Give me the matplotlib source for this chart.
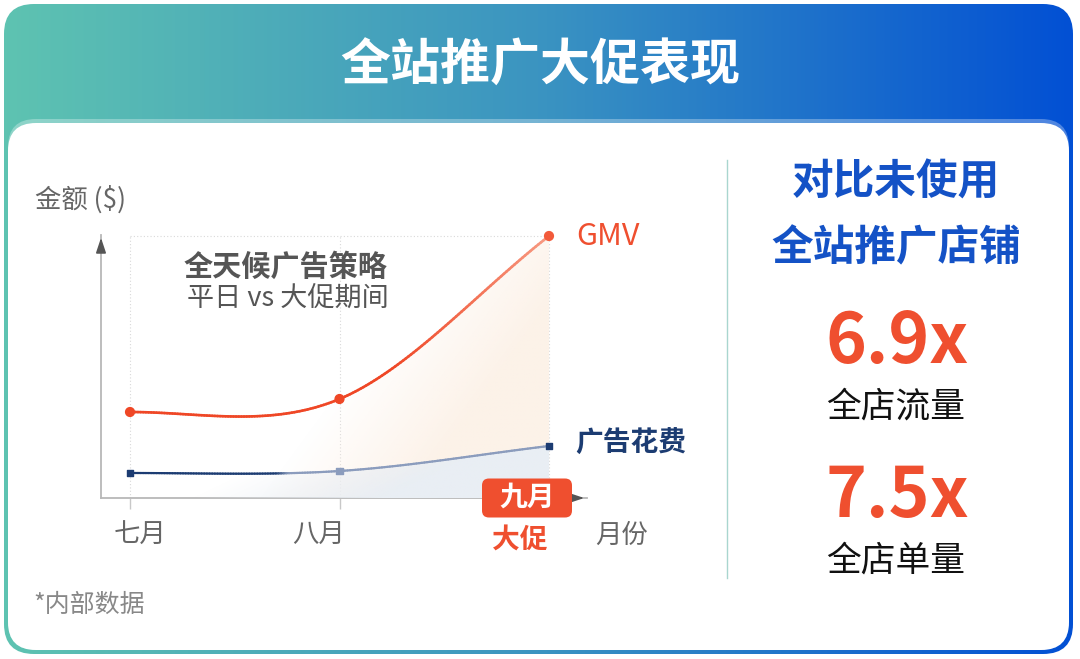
import numpy as np
import matplotlib
matplotlib.use("Agg")
import matplotlib.pyplot as plt
from matplotlib.patches import FancyBboxPatch, Polygon
from matplotlib.collections import LineCollection
from matplotlib.colors import LinearSegmentedColormap, to_rgb
from matplotlib.bezier import BezierSegment

plt.rcParams['font.family'] = ['Noto Sans CJK SC', 'DejaVu Sans']

# data
months = ['七月', '八月', '九月']
gmv = [8.6, 9.9, 26.2]          # 金额, arbitrary units
ad_spend = [2.5, 2.7, 5.2]
stat_values = ['6.9x', '7.5x']
stat_labels = ['全店流量', '全店单量']

ORANGE = '#ef4f2f'
NAVY = '#1c3c72'
BLUE = '#1452c6'


def smooth_curve(xs, ys, n=80):
    # cubic bezier through the points (flat start, chord end)
    pts = np.column_stack([xs, ys]).astype(float)
    out = []
    for i in range(len(pts) - 1):
        p0, p3 = pts[i], pts[i + 1]
        if i == 0:
            m0 = np.array([p3[0] - p0[0], 0.0])
        else:
            m0 = (pts[i + 1] - pts[i - 1]) / 2
        if i + 2 < len(pts):
            m1 = (pts[i + 2] - pts[i]) / 2
        else:
            m1 = p3 - p0
        seg = BezierSegment(np.array([p0, p0 + m0 / 3, p3 - m1 / 3, p3]))
        t = np.linspace(0, 1, n)
        out.append(seg(t) if i == 0 else seg(t)[1:])
    return np.vstack(out)


def blend(c1, c2, t):
    a, b = np.array(to_rgb(c1)), np.array(to_rgb(c2))
    t = np.clip(t, 0, 1)[:, None]
    return a * (1 - t) + b * t


fig = plt.figure(figsize=(10.8, 6.59), dpi=100)

# ---- card background ----
bg = fig.add_axes([0, 0, 1, 1])
cmap = LinearSegmentedColormap.from_list('hdr', ['#5ec3b1', '#3b94c1', '#0250d4'])
im = bg.imshow(np.linspace(0, 1, 512)[None, :], extent=(4, 1073, 654, 4),
               cmap=cmap, aspect='auto', zorder=0)
outer = FancyBboxPatch((4, 4), 1069, 650, boxstyle='round,pad=0,rounding_size=30',
                       fc='none', ec='none')
bg.add_patch(outer)
im.set_clip_path(outer)
bg.add_patch(FancyBboxPatch((8, 119), 1061, 531, boxstyle='round,pad=0,rounding_size=28',
                            fc=(1, 1, 1, 0.3), ec='none', zorder=1))
bg.add_patch(FancyBboxPatch((8, 123), 1061, 527, boxstyle='round,pad=0,rounding_size=28',
                            fc='white', ec='none', zorder=2))
bg.set_xlim(0, 1080)
bg.set_ylim(659, 0)
bg.axis('off')

bg.text(540, 66, '全站推广大促表现', ha='center', va='center', fontsize=36,
        fontweight='bold', color='white', zorder=3)

# right panel
bg.plot([727, 727], [160, 578], color='#a9d6cf', lw=1, zorder=3)
bg.text(896, 183, '对比未使用', ha='center', va='center', fontsize=30,
        fontweight='bold', color=BLUE, zorder=3)
bg.text(896, 248, '全站推广店铺', ha='center', va='center', fontsize=30,
        fontweight='bold', color=BLUE, zorder=3)
for i, (v, lab) in enumerate(zip(stat_values, stat_labels)):
    yb = 363 + i * 154
    bg.text(897, yb, v, ha='center', va='baseline', fontsize=50,
            fontweight='bold', color=ORANGE, zorder=3)
    bg.text(896, yb + 44, lab, ha='center', va='center', fontsize=25,
            color='#111111', zorder=3)

bg.text(33, 605, '*内部数据', ha='left', va='center', fontsize=18,
        color='#888888', zorder=3)

# ---- chart ----
ax = fig.add_axes([101 / 1080, (659 - 498) / 659, 486 / 1080, 263 / 659])
ax.patch.set_alpha(0)
x = np.arange(len(months))
x0, x1 = -29 / 209.5, 457 / 209.5
ytop = 26.3
ax.set_xlim(x0, x1)
ax.set_ylim(0, ytop)
for s in ax.spines.values():
    s.set_visible(False)
ax.set_yticks([])
ax.set_xticks(x[:2])
ax.set_xticklabels([])
ax.tick_params(axis='x', length=8, width=1, color='#c8c8c8')

# dotted guide lines
ax.vlines(x, 0, gmv[-1], colors='#d9d9d9', linestyles=(0, (1, 2)), lw=0.8, zorder=1)
ax.hlines(gmv[-1], x[0], x[-1], colors='#d9d9d9', linestyles=(0, (1, 2)), lw=0.8, zorder=1)

gmv_pts = smooth_curve(x, gmv)
ad_pts = smooth_curve(x, ad_spend)

# gradient fills under the curves
gx = np.linspace(x0, x1, 400)
gy = np.linspace(0, ytop, 200)
GX, GY = np.meshgrid(gx, gy)
for pts, col, a0, k, w, amax, z in [
        (gmv_pts, '#fcefe3', 0.62, 0.035, 0.7, 0.8, 2),
        (ad_pts, '#e9eef4', 0.30, 0.10, 0.9, 1.0, 3)]:
    rgba = np.zeros(GX.shape + (4,))
    rgba[..., :3] = to_rgb(col)
    rgba[..., 3] = np.clip((GX - a0 - k * GY) / w, 0, 1) * amax
    poly = np.vstack([pts, [[x[-1], 0], [x[0], 0]]])
    clip = Polygon(poly, closed=True, fc='none', ec='none')
    ax.add_patch(clip)
    fim = ax.imshow(rgba, extent=(x0, x1, 0, ytop), origin='lower',
                    aspect='auto', zorder=z, interpolation='bilinear')
    fim.set_clip_path(clip)
ax.set_xlim(x0, x1)
ax.set_ylim(0, ytop)

# gradient lines
for pts, c1, c2, t0, tw, lw in [
        (gmv_pts, '#ef4726', '#f79a82', 1.25, 0.75, 1.9),
        (ad_pts, NAVY, '#8b9cbd', 0.70, 0.06, 1.6)]:
    segs = np.stack([pts[:-1], pts[1:]], axis=1)
    mid = (pts[:-1, 0] + pts[1:, 0]) / 2
    lc = LineCollection(segs, colors=blend(c1, c2, (mid - t0) / tw),
                        linewidths=lw, capstyle='round', zorder=4)
    ax.add_collection(lc)

ax.scatter(x, gmv, s=40, marker='o', c=['#ef4726', '#ef4726', '#f25a3a'],
           zorder=5, clip_on=False)
ax.scatter(x, ad_spend, s=20, marker='s', c=[NAVY, '#8b9cbd', NAVY],
           zorder=5, clip_on=False)

# axes with arrows
ax.plot([0, 0], [0, 1], transform=ax.transAxes, color='#b8b8b8', lw=1.3, clip_on=False)
ax.plot([0, 1], [0, 0], transform=ax.transAxes, color='#b8b8b8', lw=1.3, clip_on=False)
ax.annotate('', xy=(0, 1), xytext=(0, 0.95), xycoords='axes fraction',
            arrowprops=dict(arrowstyle='-|>,head_length=0.9,head_width=0.3',
                            color='#555555', lw=1.2))
ax.annotate('', xy=(1, 0), xytext=(0.97, 0), xycoords='axes fraction',
            arrowprops=dict(arrowstyle='-|>,head_length=0.9,head_width=0.3',
                            color='#555555', lw=1.2))

# labels
grey = '#666666'
ax.text(-0.453, 29.8, '金额 ($)', ha='left', va='center', fontsize=19,
        color=grey, style='italic')
ax.text(0.74, 23.1, '全天候广告策略', ha='center', va='center', fontsize=21,
        fontweight='bold', color='#555555', style='italic')
ax.text(0.754, 20.0, '平日 vs 大促期间', ha='center', va='center', fontsize=19.5,
        color='#555555', style='italic')
ax.text(x[-1] + 0.129, gmv[-1], 'GMV', ha='left', va='center', fontsize=22,
        fontweight='medium', color=ORANGE)
ax.text(x[-1] + 0.124, ad_spend[-1] + 0.2, '广告花费', ha='left', va='center',
        fontsize=20, fontweight='bold', color=NAVY)
ax.text(x[0] + 0.048, -3.7, months[0], ha='center', va='center', fontsize=19,
        color=grey, style='italic')
ax.text(x[1] - 0.1, -3.7, months[1], ha='center', va='center', fontsize=19,
        color=grey, style='italic')
ax.text(2.348, -3.7, '月份', ha='center', va='center', fontsize=19,
        color=grey, style='italic')

# 九月 badge
bw, bh = 90 / 209.5, 39 / 10
ax.add_patch(FancyBboxPatch((x[-1] - 0.105 - bw / 2, -bh / 2), bw, bh,
                            boxstyle='round,pad=0,rounding_size=0.033',
                            mutation_aspect=20.95, fc=ORANGE, ec='none',
                            zorder=6, clip_on=False))
ax.text(x[-1] - 0.105, 0, months[2], ha='center', va='center', fontsize=20,
        fontweight='bold', color='white', zorder=7)
ax.text(x[-1] - 0.138, -4.2, '大促', ha='center', va='center', fontsize=20,
        fontweight='bold', color=ORANGE, style='italic')

fig.savefig('out.png', dpi=100)
